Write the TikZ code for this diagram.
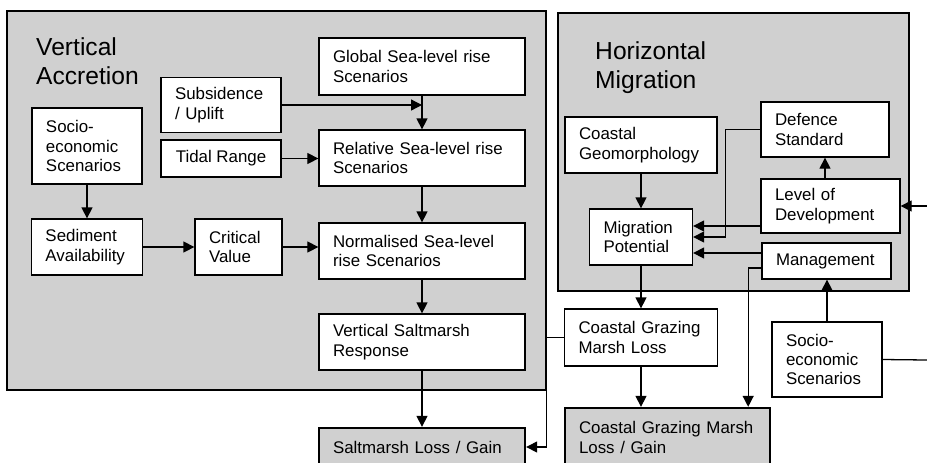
\documentclass[tikz,border=0pt]{standalone}
\usepackage{fontspec}
\setmainfont{Liberation Sans}
\usetikzlibrary{arrows.meta,positioning}
\definecolor{panelGray}{RGB}{208,208,208}
\newcommand{\boxfont}{\fontsize{14.4}{16.6}\selectfont}
\newcommand{\titlefont}{\fontsize{21}{25}\selectfont}

\begin{document}
\begin{tikzpicture}[
    x=0.03cm, y=-0.03cm,
    blk/.style={draw, fill=white, line width=1.1pt, align=left, font=\boxfont, inner xsep=0.42cm, inner ysep=0pt},
    result/.style={blk, fill=panelGray, line width=2pt},
    panel/.style={draw, fill=panelGray, line width=1.5pt, anchor=north west, inner sep=0pt},
    ttl/.style={font=\titlefont, align=left, anchor=north west, inner sep=0pt},
    wide/.style={text width=5.34cm},
    arr/.style={-{Triangle[length=3.3mm, width=3.3mm]}, line width=1.1pt}
  ]
  \clip (0,0) rectangle (927,462);

  % panels
  \node[panel, minimum width=16.17cm, minimum height=11.37cm] (vpanel) at (6,10) {};
  \node[panel, minimum width=10.53cm, minimum height=8.34cm] (hpanel) at (557,12) {};
  \node[ttl] (vttl) at (36,37) {Vertical\\Accretion};
  \node[ttl] (httl) at (595,41) {Horizontal\\Migration};

  % vertical accretion
  \node[blk, wide, minimum height=1.71cm] (glob) at (422,66.5) {Global Sea-level rise\\Scenarios};
  \node[blk, text width=2.76cm, minimum height=1.65cm] (subs) at (221,105) {Subsidence\\/ Uplift};
  \node[blk, align=center, minimum width=3.6cm, minimum height=1.11cm] (tide) at (221,158.5) {Tidal Range};
  \node[blk, wide, minimum height=1.68cm] (rel) at (422,158) {Relative Sea-level rise\\Scenarios};
  \node[blk, text width=2.46cm, minimum height=2.28cm] (soc1) at (87,146) {Socio-\\economic\\Scenarios};
  \node[blk, text width=2.49cm, minimum height=1.68cm] (sed) at (87,247) {Sediment\\Availability};
  \node[blk, text width=1.77cm, minimum height=1.68cm] (crit) at (238.5,247) {Critical\\Value};
  \node[blk, wide, minimum height=1.68cm] (norm) at (422,251) {Normalised Sea-level\\rise Scenarios};
  \node[blk, wide, minimum height=1.68cm] (vsr) at (422,342) {Vertical Saltmarsh\\Response};
  \node[result, wide, minimum height=1.14cm] (slg) at (422,447) {Saltmarsh Loss / Gain};

  % horizontal migration
  \node[blk, text width=3.72cm, minimum height=1.68cm] (cgeo) at (641,145) {Coastal\\Geomorphology};
  \node[blk, text width=3.0cm, minimum height=1.65cm] (def) at (825,129.5) {Defence\\Standard};
  \node[blk, text width=3.33cm, minimum height=1.62cm] (lod) at (830.5,206) {Level of\\Development};
  \node[blk, text width=2.25cm, minimum height=1.68cm] (mig) at (641,237) {Migration\\Potential};
  \node[blk, text width=3.03cm, minimum height=1.08cm] (mgmt) at (826.5,261) {Management};
  \node[blk, text width=3.75cm, minimum height=1.71cm] (cgml) at (641,337.5) {Coastal Grazing\\Marsh Loss};
  \node[blk, text width=2.46cm, minimum height=2.25cm] (soc2) at (827,359.5) {Socio-\\economic\\Scenarios};
  \node[result, text width=5.31cm, minimum height=1.77cm] (cglg) at (667.5,437.5) {Coastal Grazing Marsh\\Loss / Gain};
  \coordinate (rin) at (927,206);
  \coordinate (rout) at (927,360);

  % connectors, left
  \draw[arr] (glob) -- (rel);
  \draw[arr] (subs.east) -- (subs.east -| glob.south);
  \draw[arr] (tide.east) -- (tide.east -| rel.west);
  \draw[arr] (soc1) -- (sed);
  \draw[arr] (sed) -- (crit);
  \draw[arr] (crit) -- (crit -| norm.west);
  \draw[arr] (rel) -- (norm);
  \draw[arr] (norm) -- (vsr);
  \draw[arr] (vsr) -- (slg);
  \draw[arr] (cgml.west) -- (cgml.west -| vpanel.east) |- (slg.east);

  % connectors, right
  \draw[arr] (cgeo) -- (mig);
  \draw[arr] (def.south |- lod.north) -- (def.south);
  \draw[arr] ([yshift=-0.6cm]lod.west) -- ([yshift=-0.6cm]lod.west -| mig.east);
  \draw[arr] (def.west) -- ++(-35,0) |- (mig.east);
  \draw[arr] ([yshift=0.24cm]mgmt.west) -- ([yshift=0.24cm]mgmt.west -| mig.east);
  \draw[arr] ([yshift=-0.21cm]mgmt.west) -| ([xshift=-0.69cm]cglg.north east);
  \draw[arr] (mig) -- (cgml);
  \draw[arr] (cgml.south) -- (cgml.south |- cglg.north);
  \draw[arr] (soc2) -- (soc2 |- mgmt.south);
  \draw[line width=1.1pt] (soc2.east) -- (rout);
  \draw[arr] (rin) -- (lod.east);
\end{tikzpicture}
\end{document}
